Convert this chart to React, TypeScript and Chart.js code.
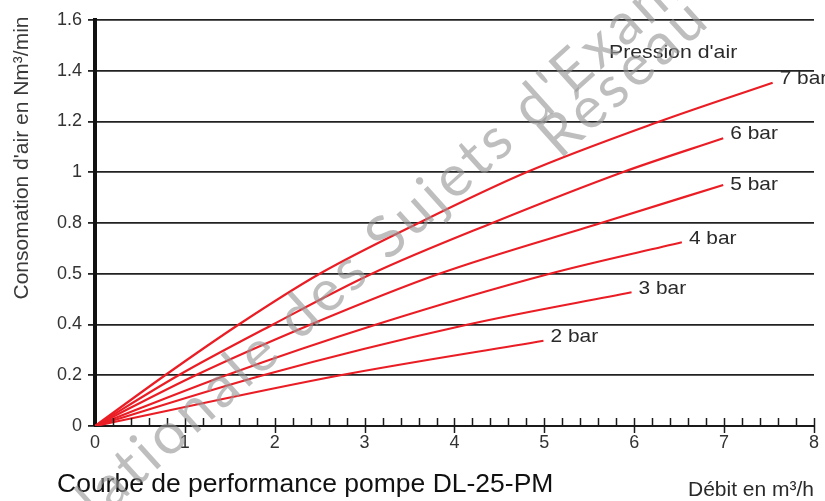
import React, { useEffect, useRef } from "react";
import { Chart, registerables } from "chart.js";

Chart.register(...registerables);

// ---- data ----
const xMin = 0;
const xMax = 8;
const yMin = 0;
const yMax = 1.6;
// tick labels exactly as printed on the reference (note "0.5" at the 0.6 position)
const yTickLabels = ["0", "0.2", "0.4", "0.5", "0.8", "1", "1.2", "1.4", "1.6"];
const xTickLabels = ["0", "1", "2", "3", "4", "5", "6", "7", "8"];

const seriesNames = ["7 bar", "6 bar", "5 bar", "4 bar", "3 bar", "2 bar"];

// Débit (m³/h) / Consommation (Nm³/min)
const flow7 = [0, 0.78, 1.6, 2.5, 3.6, 4.8, 6.28, 7.54];
const air7 = [0, 0.2, 0.4, 0.6, 0.8, 1.0, 1.2, 1.353];
const flow6 = [0, 0.93, 1.98, 3.08, 4.42, 5.87, 6.99];
const air6 = [0, 0.2, 0.4, 0.6, 0.8, 1.0, 1.134];
const flow5 = [0, 1.12, 2.4, 3.83, 5.63, 6.99];
const air5 = [0, 0.2, 0.4, 0.6, 0.8, 0.95];
const flow4 = [0, 1.46, 3.13, 5.06, 6.53];
const air4 = [0, 0.2, 0.4, 0.6, 0.724];
const flow3 = [0, 1.87, 4.15, 5.97];
const air3 = [0, 0.2, 0.4, 0.527];
const flow2 = [0, 2.73, 4.99];
const air2 = [0, 0.2, 0.336];

const seriesFlows = [flow7, flow6, flow5, flow4, flow3, flow2];
const seriesAir = [air7, air6, air5, air4, air3, air2];

const legendTitle = "Pression d'air";
const yTitle = "Consomation d'air en Nm³/min";
const xTitle = "Débit en m³/h";
const caption = "Courbe de performance pompe DL-25-PM";
const watermark1 = "Base Nationale des Sujets d'Examens de l'enseignement professionnel";
const watermark1Hidden = "Base N";
const watermark2 = "Réseau Canopé";

const RED = "#ea1d25";
const FONT = "'Liberation Sans', Arial, Helvetica, sans-serif";

const annotPlugin = {
  id: "annot",
  afterDraw(chart: any) {
    const { ctx, scales } = chart;
    const x = scales.x;
    const y = scales.y;
    ctx.save();

    // x-axis ticks: minor every 0.2 (upward), major at integers (crossing)
    const base = y.getPixelForValue(0);
    ctx.strokeStyle = "#1a1a1a";
    ctx.lineWidth = 1.5;
    for (let i = 1; i <= 40; i++) {
      const px = Math.round(x.getPixelForValue(i / 5)) + 0.5;
      const major = i % 5 === 0;
      ctx.beginPath();
      ctx.moveTo(px, base - 8);
      ctx.lineTo(px, base + (major ? 7 : 0));
      ctx.stroke();
    }

    // series labels at line ends
    ctx.fillStyle = "#2a2a2a";
    ctx.textBaseline = "middle";
    ctx.textAlign = "left";
    chart.data.datasets.forEach((ds: any, i: number) => {
      const last = ds.data[ds.data.length - 1];
      const px = x.getPixelForValue(last.x) + 7;
      const py = y.getPixelForValue(last.y) - (i === 2 ? 0 : 4);
      ctx.save();
      ctx.translate(px, py);
      ctx.scale(1.1, 1);
      ctx.font = `19px ${FONT}`;
      ctx.fillText(ds.label, 0, 0);
      ctx.restore();
    });

    // legend title
    ctx.save();
    ctx.translate(609, 53);
    ctx.scale(1.12, 1);
    ctx.font = `19px ${FONT}`;
    ctx.fillText(legendTitle, 0, 0);
    ctx.restore();

    // y title
    ctx.save();
    ctx.translate(22, 158);
    ctx.rotate(-Math.PI / 2);
    ctx.font = `21px ${FONT}`;
    ctx.fillStyle = "#3a3a3a";
    ctx.textAlign = "center";
    ctx.fillText(yTitle, 0, 0);
    ctx.restore();

    // x title
    ctx.save();
    ctx.font = `21px ${FONT}`;
    ctx.fillStyle = "#2a2a2a";
    ctx.textBaseline = "alphabetic";
    ctx.fillText(xTitle, 688, 496);
    ctx.restore();

    // caption
    ctx.save();
    ctx.translate(57, 492);
    ctx.scale(1.06, 1);
    ctx.font = `25px ${FONT}`;
    ctx.fillStyle = "#111";
    ctx.textBaseline = "alphabetic";
    ctx.fillText(caption, 0, 0);
    ctx.restore();

    // watermark
    const ang = (-42 * Math.PI) / 180;
    ctx.font = "58px Lato, 'Open Sans', sans-serif";
    (ctx as any).letterSpacing = "4px";
    ctx.fillStyle = "rgba(150,150,150,0.62)";
    ctx.textBaseline = "alphabetic";
    ctx.textAlign = "left";
    ctx.save();
    ctx.translate(112, 510);
    ctx.rotate(ang);
    const pre = ctx.measureText(watermark1Hidden).width;
    ctx.fillText(watermark1, -pre, 0);
    ctx.restore();
    ctx.save();
    ctx.translate(560, 160);
    ctx.rotate(ang);
    ctx.fillText(watermark2, 0, 0);
    ctx.restore();
    (ctx as any).letterSpacing = "0px";

    ctx.restore();
  },
};

export default function App() {
  const ref = useRef<HTMLCanvasElement | null>(null);

  useEffect(() => {
    const canvas = ref.current;
    if (!canvas) return;
    const chart = new Chart(canvas, {
      type: "line",
      data: {
        datasets: seriesNames.map((name, i) => ({
          label: name,
          data: seriesFlows[i].map((v, j) => ({ x: v, y: seriesAir[i][j] })),
          borderColor: RED,
          backgroundColor: RED,
          borderWidth: 2.2,
          pointRadius: 0,
          cubicInterpolationMode: "monotone" as const,
          fill: false,
        })),
      },
      options: {
        animation: false,
        responsive: false,
        devicePixelRatio: 1,
        layout: { padding: { left: 0, right: 11, top: 20, bottom: 0 } },
        plugins: {
          legend: { display: false },
          tooltip: { enabled: false },
          title: { display: false },
        },
        scales: {
          x: {
            type: "linear",
            min: xMin,
            max: xMax,
            afterFit(s: any) {
              s.height = 75;
            },
            grid: { display: false, drawTicks: false },
            border: { display: true, color: "#1a1a1a", width: 2 },
            ticks: {
              stepSize: 1,
              padding: 6,
              color: "#333",
              maxRotation: 0,
              autoSkip: false,
              font: { family: FONT, size: 18 },
              callback: (_v: any, i: number) => xTickLabels[i],
            },
          },
          y: {
            type: "linear",
            min: yMin,
            max: yMax,
            afterFit(s: any) {
              s.width = 95;
            },
            grid: { color: "#222", lineWidth: 1.8, tickLength: 7, drawTicks: true },
            border: { display: true, color: "#111", width: 4 },
            ticks: {
              stepSize: 0.2,
              padding: 6,
              color: "#333",
              autoSkip: false,
              font: { family: FONT, size: 18 },
              callback: (_v: any, i: number) => yTickLabels[i],
            },
          },
        },
      },
      plugins: [annotPlugin],
    });
    return () => chart.destroy();
  }, []);

  return (
    <div style={{ position: "fixed", left: 0, top: 0, width: 825, height: 501, background: "#fff" }}>
      <canvas ref={ref} width={825} height={501} style={{ display: "block", width: 825, height: 501 }} />
    </div>
  );
}
